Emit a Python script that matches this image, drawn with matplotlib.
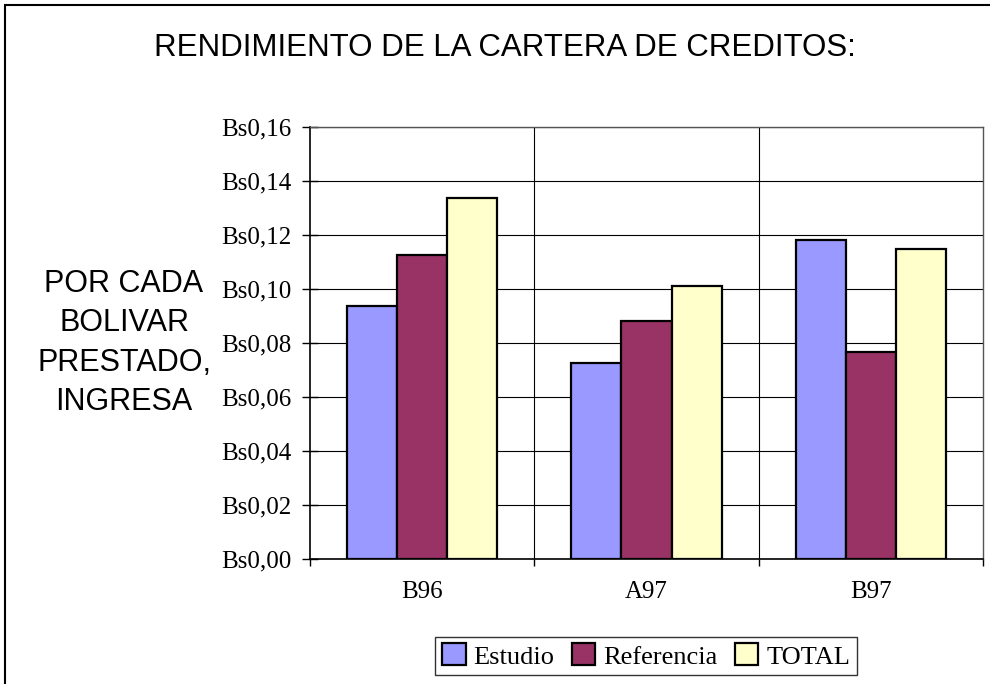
import numpy as np
import matplotlib.pyplot as plt
from matplotlib.patches import Rectangle

# data
periods = ["B96", "A97", "B97"]
estudio = [0.0938, 0.0727, 0.1181]
referencia = [0.1127, 0.0880, 0.0767]
total = [0.1338, 0.1012, 0.1149]
series_names = ["Estudio", "Referencia", "TOTAL"]
colors = ["#9999FF", "#993366", "#FFFFCC"]
yticks = [0.00, 0.02, 0.04, 0.06, 0.08, 0.10, 0.12, 0.14, 0.16]

serif = "Liberation Serif"
sans = "Liberation Sans"

fig = plt.figure(figsize=(9.9, 6.84), dpi=100)
ax = fig.add_axes([310/990, 1-559/684, (983-310)/990, (559-127)/684])

x = np.arange(len(periods))
w = 0.223
for i, (vals, name, c) in enumerate(zip([estudio, referencia, total], series_names, colors)):
    ax.bar(x + (i-1)*w, vals, width=w, color=c, edgecolor="black", linewidth=1.6,
           label=name, zorder=3)

ax.set_xlim(-0.5, 2.5)
ax.set_ylim(0, 0.16)
ax.set_yticks(yticks)
ax.set_yticklabels(["Bs" + f"{v:.2f}".replace(".", ",") for v in yticks],
                   fontfamily=serif, fontsize=18)
ax.set_xticks(x)
ax.set_xticklabels(periods, fontfamily=serif, fontsize=18)
ax.set_xticks([-0.5, 0.5, 1.5, 2.5], minor=True)
ax.tick_params(axis="x", which="major", length=0, pad=16)
ax.tick_params(axis="x", which="minor", length=5, width=1, direction="out")
ax.tick_params(axis="y", length=12, width=1, direction="inout", pad=7)

ax.grid(axis="y", color="black", linewidth=0.8, zorder=0)
for b in [0.5, 1.5]:
    ax.axvline(b, color="black", linewidth=0.8, zorder=0)

for side in ["top", "right"]:
    ax.spines[side].set_color("#555555")
    ax.spines[side].set_linewidth(1.0)
for side in ["left", "bottom"]:
    ax.spines[side].set_color("black")
    ax.spines[side].set_linewidth(1.2)

fig.text(505/990, 1-48/684, "RENDIMIENTO DE LA CARTERA DE CREDITOS:",
         fontfamily=sans, fontsize=22.5, ha="center", va="center")
fig.text(124/990, 1-343/684, "POR CADA\nBOLIVAR\nPRESTADO,\nINGRESA",
         fontfamily=sans, fontsize=22, ha="center", va="center", linespacing=1.42)

leg = fig.legend(loc="center", bbox_to_anchor=(646/990, 1-656/684), ncol=3,
                 prop={"family": serif, "size": 19}, frameon=True, fancybox=False,
                 edgecolor="black", handlelength=0.9, handleheight=0.9,
                 handletextpad=0.3, columnspacing=0.65, borderpad=0.25, borderaxespad=0)
leg.get_frame().set_linewidth(1.0)
for h in leg.legend_handles:
    h.set_linewidth(1.6)

# outer chart border (only left and top visible in the reference)
fig.patches.append(Rectangle((5/990, -0.1), 2, 1-5/684+0.1, transform=fig.transFigure,
                             fill=False, edgecolor="black", linewidth=1.5))

fig.savefig("out.png", dpi=100)
